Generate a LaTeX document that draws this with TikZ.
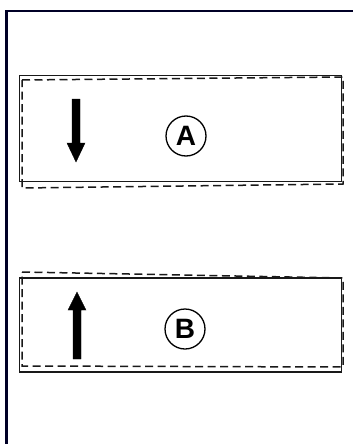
\documentclass[tikz,border=0pt]{standalone}
\usepackage{fontspec}
\setmainfont{Liberation Sans}
\usetikzlibrary{calc}
\begin{document}
\begin{tikzpicture}[x=1pt,y=-1pt,
  frameline/.style={line width=2.2pt,draw=black!85!blue},
  solidbox/.style={draw=black!90,line width=1.8pt,minimum width=322pt,minimum height=106pt,inner sep=0pt,outer sep=0pt},
  dashbox/.style={draw=black!90,line width=1.5pt,dash pattern=on 8pt off 4.5pt},
  marker/.style={circle,draw=black,line width=1.3pt,minimum size=40pt,inner sep=0pt,font=\fontsize{28}{28}\selectfont\bfseries},
  bigarrow/.style={fill=black,draw=black,line width=0.4pt}]
\useasboundingbox (0,0) rectangle (353,444);
\fill[white] (0,0) rectangle (353,444);
% outer frame (top and left)
\coordinate (ftr) at (353,11);
\coordinate (ftl) at (6.5,11);
\coordinate (fbl) at (6.5,444);
\draw[frameline] (ftr) -- (ftl) -- (fbl);
% box A
\node[solidbox,anchor=north west] (boxA) at (19.5,75.5) {};
\draw[dashbox] (22,80) -- (343,77) -- (343,184) -- (22,188) -- cycle;
\node[marker] (cA) at (186,136) {A};
\coordinate (aTop) at (76,99);
\coordinate (aTip) at (76,162);
\fill[bigarrow] ($(aTop)+(-4,0)$) -- ($(aTop)+(4,0)$) -- ($(aTip)+(4,-19)$) -- ($(aTip)+(9,-19)$) -- (aTip) -- ($(aTip)+(-9,-19)$) -- ($(aTip)+(-4,-19)$) -- cycle;
% box B
\node[solidbox,minimum height=94pt,anchor=north west] (boxB) at (19.5,278) {};
\draw[dashbox] (22,272) -- (343,278) -- (343,367) -- (22,366) -- cycle;
\node[marker] (cB) at (185,329) {B};
\coordinate (bBot) at (77,359);
\coordinate (bTip) at (77,292);
\fill[bigarrow] ($(bBot)+(-4,0)$) -- ($(bBot)+(4,0)$) -- ($(bTip)+(4,18)$) -- ($(bTip)+(9,18)$) -- (bTip) -- ($(bTip)+(-9,18)$) -- ($(bTip)+(-4,18)$) -- cycle;
\end{tikzpicture}
\end{document}
